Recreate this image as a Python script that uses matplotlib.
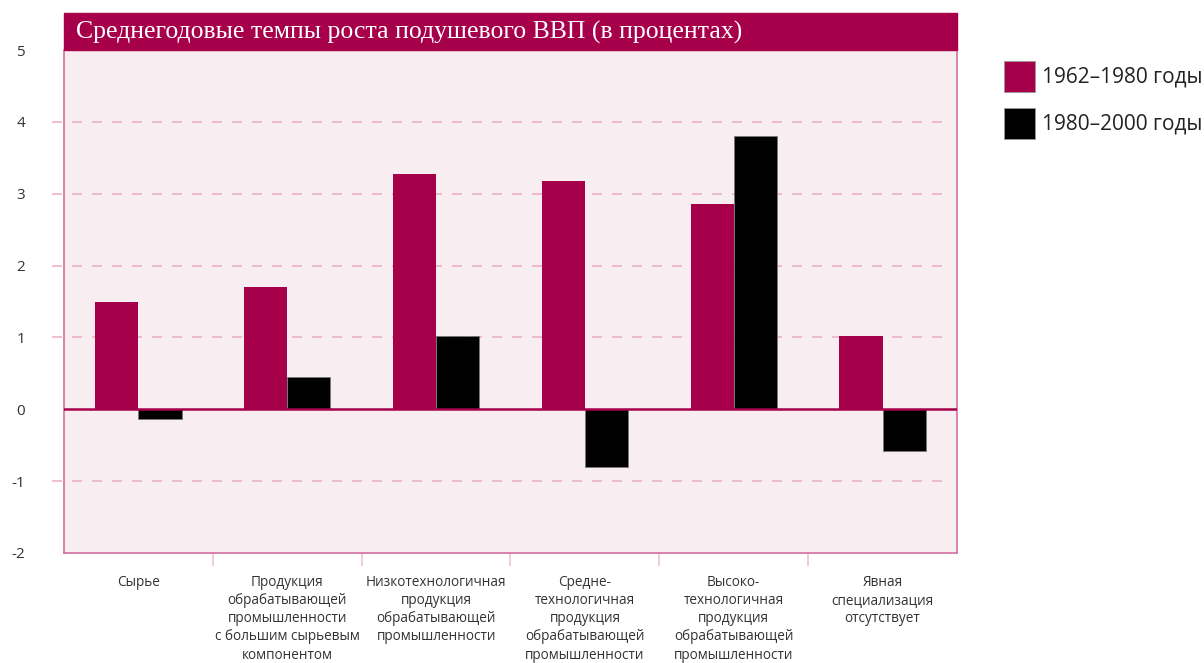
import matplotlib.pyplot as plt
from matplotlib.patches import Rectangle
import numpy as np

categories = [
    'Сырье',
    'Продукция\nобрабатывающей\nпромышленности\nс большим сырьевым\nкомпонентом',
    'Низкотехнологичная\nпродукция\nобрабатывающей\nпромышленности',
    'Средне-\nтехнологичная\nпродукция\nобрабатывающей\nпромышленности',
    'Высоко-\nтехнологичная\nпродукция\nобрабатывающей\nпромышленности',
    'Явная\nспециализация\nотсутствует',
]
growth_1962_1980 = [1.50, 1.70, 3.28, 3.17, 2.85, 1.02]
growth_1980_2000 = [-0.14, 0.45, 1.02, -0.80, 3.80, -0.58]
series_labels = ['1962–1980 годы', '1980–2000 годы']
y_ticks = [-2, -1, 0, 1, 2, 3, 4, 5]
title = 'Среднегодовые темпы роста подушевого ВВП (в процентах)'

MAGENTA = '#a6004b'
BG = '#f8edf1'
GRID = '#eab3c8'
BORDER = '#d56fa0'
TEXT = '#333333'

fig = plt.figure(figsize=(12.04, 6.63), dpi=100)
ax = fig.add_axes([64 / 1204, 110 / 663, 893 / 1204, 503 / 663])
ax.set_facecolor(BG)

x = np.arange(len(categories)) + 0.5
w = 0.29
ax.bar(x - w / 2, growth_1962_1980, w, color=MAGENTA, zorder=3)
ax.bar(x + w / 2, growth_1980_2000, w, color='black', edgecolor='#777777',
       linewidth=0.5, zorder=3)

ax.set_xlim(0, len(categories))
ax.set_ylim(-2, 5)

# dashed grid, slightly sticking out left of the box
for v in [-1, 1, 2, 3, 4]:
    ax.axhline(v, xmin=-0.013, xmax=0.99, color=GRID, lw=1.2,
               ls=(0, (6, 6)), zorder=1, clip_on=False)
ax.axhline(0, color=MAGENTA, lw=1.8, zorder=4)

for side in ['left', 'right', 'bottom']:
    ax.spines[side].set_color(BORDER)
    ax.spines[side].set_linewidth(1.2)
ax.spines['top'].set_visible(False)

ax.set_yticks(y_ticks)
ax.set_yticklabels([str(t) for t in y_ticks], fontsize=11, color=TEXT,
                   family='Open Sans')
ax.tick_params(axis='y', length=0, pad=28)

# boundary tick marks below the box
ax.set_xticks(np.arange(1, len(categories)))
ax.set_xticklabels([])
ax.tick_params(axis='x', direction='out', length=9, color='#efc3d4', width=1.2)
for xi, lab in zip(x, categories):
    ax.text(xi, -2.3, lab, ha='center', va='top', fontsize=9.8, color=TEXT,
            family='Open Sans', linespacing=1.3)

# title bar
ax.add_patch(Rectangle((0, 1), 1, 37 / 503, transform=ax.transAxes,
                       color=MAGENTA, clip_on=False, zorder=5))
ax.text(12 / 893, 1 + 18 / 503, title, transform=ax.transAxes, ha='left',
        va='center', color='white', fontsize=18.5, family='Liberation Serif',
        zorder=6)

# legend
for i, (lab, col) in enumerate(zip(series_labels, [MAGENTA, 'black'])):
    top = 61 + i * 47
    fig.patches.append(Rectangle((1004 / 1204, 1 - (top + 31) / 663),
                                 31 / 1204, 31 / 663, transform=fig.transFigure,
                                 facecolor=col, edgecolor='#999999', lw=0.6))
    fig.text(1042 / 1204, 1 - (top + 16) / 663, lab, ha='left', va='center',
             fontsize=15, color='#222222', family='Open Sans')

fig.savefig('out.png', dpi=100, facecolor='white')
